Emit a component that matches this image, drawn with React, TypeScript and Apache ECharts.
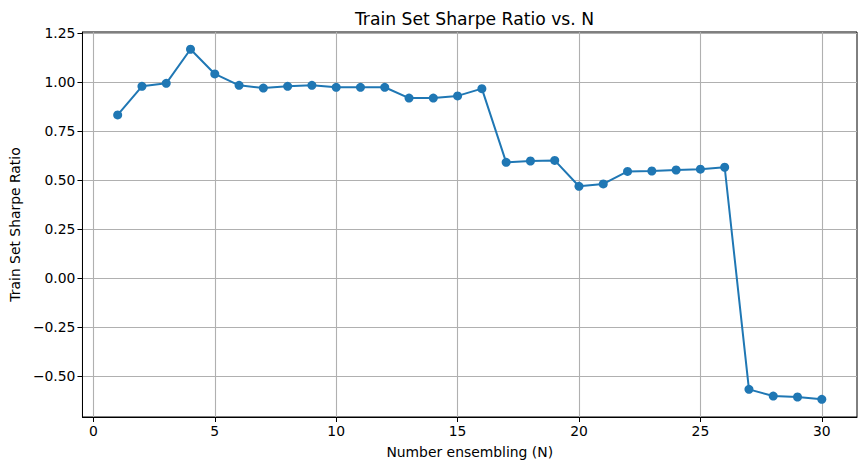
import React, { useEffect, useRef } from "react";
import * as echarts from "echarts";

const nValues = [1,2,3,4,5,6,7,8,9,10,11,12,13,14,15,16,17,18,19,20,21,22,23,24,25,26,27,28,29,30];
const sharpe = [0.832,0.978,0.993,1.167,1.041,0.983,0.969,0.978,0.983,0.973,0.973,0.973,0.918,0.918,0.929,0.966,0.590,0.597,0.600,0.468,0.480,0.544,0.546,0.551,0.555,0.565,-0.568,-0.602,-0.607,-0.619];
const xTicks = [0,5,10,15,20,25,30];
const yTicks = [-0.5,-0.25,0,0.25,0.5,0.75,1.0,1.25];

const FONT = "DejaVu Sans";

export default function App() {
  const ref = useRef<HTMLDivElement>(null);
  useEffect(() => {
    document.body.style.margin = "0";
    const chart = echarts.init(ref.current!, null, { renderer: "svg" });
    const fmtY = (v: number) => v.toFixed(2).replace("-", "\u2212");
    chart.setOption({
      animation: false,
      backgroundColor: "#ffffff",
      textStyle: { fontFamily: FONT },
      title: {
        text: "Train Set Sharpe Ratio vs. N",
        left: 469.5,
        textAlign: "center",
        top: 5,
        textStyle: { fontFamily: FONT, fontSize: 17.2, fontWeight: "normal", color: "#000" },
      },
      grid: {
        left: 82,
        right: 9,
        top: 32,
        bottom: 53,
        show: true,
        borderColor: "#000",
        borderWidth: 1,
        backgroundColor: "transparent",
      },
      xAxis: {
        type: "value",
        min: -0.45,
        max: 31.45,
        name: "Number ensembling (N)",
        nameLocation: "middle",
        nameGap: 28,
        nameTextStyle: { fontFamily: FONT, fontSize: 13.9, color: "#000" },
        axisLine: { show: true, onZero: false, lineStyle: { color: "#000", width: 1 } },
        axisTick: { show: true, inside: false, length: 5, customValues: xTicks, lineStyle: { color: "#000", width: 1 } },
        axisLabel: { customValues: xTicks, fontFamily: FONT, fontSize: 13.9, color: "#000", margin: 7, formatter: (v: number) => String(v) },
        splitLine: { show: true, lineStyle: { color: "#b0b0b0", width: 1.1 } },
      },
      yAxis: {
        type: "value",
        min: -0.709,
        max: 1.255,
        name: "Train Set Sharpe Ratio",
        nameLocation: "middle",
        nameGap: 58,
        nameTextStyle: { fontFamily: FONT, fontSize: 13.9, color: "#000" },
        axisLine: { show: true, onZero: false, lineStyle: { color: "#000", width: 1 } },
        axisTick: { show: true, inside: false, length: 5, customValues: yTicks, lineStyle: { color: "#000", width: 1 } },
        axisLabel: { customValues: yTicks, fontFamily: FONT, fontSize: 13.9, color: "#000", margin: 7, formatter: fmtY },
        splitLine: { show: true, lineStyle: { color: "#b0b0b0", width: 1.1 } },
      },
      series: [
        {
          type: "line",
          data: nValues.map((n, i) => [n, sharpe[i]]),
          symbol: "circle",
          symbolSize: 9,
          showSymbol: true,
          lineStyle: { color: "#1f77b4", width: 2 },
          itemStyle: { color: "#1f77b4", borderWidth: 0 },
          z: 3,
        },
      ],
    });
    return () => chart.dispose();
  }, []);
  return <div ref={ref} style={{ position: "absolute", left: 0, top: 0, width: 866, height: 470 }} />;
}
